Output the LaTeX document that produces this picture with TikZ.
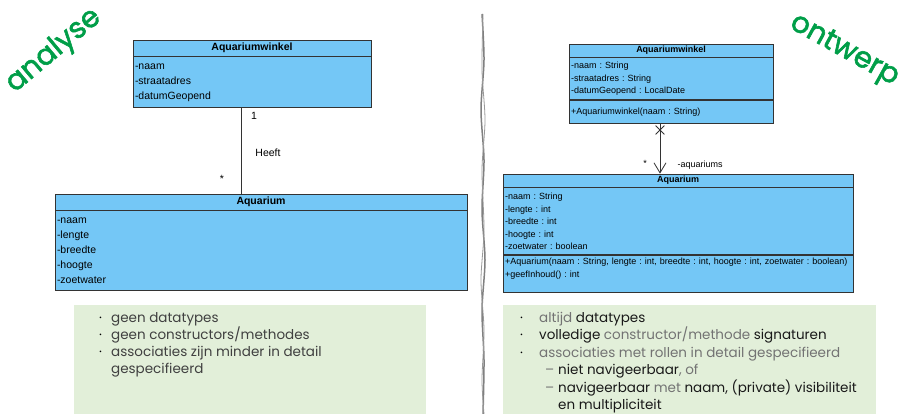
\documentclass[tikz,border=0pt]{standalone}
\usepackage{fontspec}
\setmainfont{Liberation Sans}
\newfontfamily\slidefont{Poppins}
\newfontfamily\labelfont{Poppins}[FakeBold=2]
\usetikzlibrary{positioning,arrows.meta,shapes.misc}
\definecolor{umlblue}{RGB}{116,199,246}
\definecolor{noteGreen}{RGB}{226,239,217}
\definecolor{labelGreen}{RGB}{0,158,72}
\frenchspacing

\begin{document}
\begin{tikzpicture}[x=1pt,y=-1pt]
	\tikzstyle{classhead}=[draw=black!80,fill=umlblue,line width=0.8pt,inner sep=0pt]
	\tikzstyle{classbody}=[draw=black!80,fill=umlblue,line width=0.8pt,align=left,inner xsep=2pt,inner ysep=0pt]
	\tikzstyle{notebox}=[fill=noteGreen,inner sep=0pt,anchor=north west]
	\tikzstyle{notetext}=[align=left,inner sep=0pt,anchor=north west]
	\tikzstyle{biglabel}=[text=labelGreen,font=\labelfont\fontsize{29}{30}\selectfont]
	\useasboundingbox (0,0) rectangle (916,414);
	% analyse
	\node[biglabel,rotate=40] (labelA) at (54,51) {analyse};
	\node[classhead,minimum width=238pt,minimum height=16pt,font=\bfseries\fontsize{10.5}{12}\selectfont] (winkelAhead) at (252,48) {Aquariumwinkel};
	\node[classbody,below=0pt of winkelAhead,text width=234pt,minimum height=51pt,font=\fontsize{10.5}{15}\selectfont] (winkelAattr) {-naam\\-straatadres\\-datumGeopend};
	\node[classhead,minimum width=412pt,minimum height=16pt,font=\bfseries\fontsize{10.5}{12}\selectfont] (aqAhead) at (261,202) {Aquarium};
	\node[classbody,below=0pt of aqAhead,text width=408pt,minimum height=80pt,font=\fontsize{10.5}{14.8}\selectfont] (aqAattr) {-naam\\-lengte\\-breedte\\-hoogte\\-zoetwater};
	\coordinate (heeftX) at (241,0);
	\draw[black!80,line width=0.8pt] (heeftX |- winkelAattr.south) -- (heeftX |- aqAhead.north);
	\node[font=\fontsize{10.5}{12}\selectfont] (multA1) at (254,116) {1};
	\node[font=\fontsize{10.5}{12}\selectfont] (heeft) at (268,153) {Heeft};
	\node[font=\fontsize{10.5}{12}\selectfont] (multA2) at (222,179) {*};
	\node[notebox,minimum width=352pt,minimum height=109pt] (notesA) at (74,305) {};
	\node[notetext,text=black!75,font=\slidefont\fontsize{13.5}{17}\selectfont] (listA) at (99,312) {%
		\makebox[12pt][l]{\color{black}·}geen datatypes\\
		\makebox[12pt][l]{\color{black}·}geen constructors/methodes\\
		\makebox[12pt][l]{\color{black}·}associaties zijn minder in detail\\
		\hspace*{12pt}gespecifieerd};
	% divider
	\draw[gray,line width=1.5pt] plot[smooth] coordinates {(482,14) (484,60) (481,110) (484,160) (482,210) (485,260) (482,310) (484,360) (483,414)};
	\draw[gray!80,line width=0.8pt] plot[smooth] coordinates {(483,14) (482,70) (485,120) (482,170) (484,230) (481,280) (484,330) (482,380) (484,414)};
	% ontwerp
	\node[biglabel,rotate=-29] (labelB) at (844,51) {ontwerp};
	\node[classhead,minimum width=204pt,minimum height=13pt,font=\bfseries\fontsize{9}{10}\selectfont] (winkelBhead) at (671,50.5) {Aquariumwinkel};
	\node[classbody,below=0pt of winkelBhead,text width=200pt,minimum height=42pt,font=\fontsize{9}{12.5}\selectfont] (winkelBattr) {-naam : String\\-straatadres : String\\-datumGeopend : LocalDate};
	\node[classbody,below=0pt of winkelBattr,text width=200pt,minimum height=23pt,font=\fontsize{9}{12.5}\selectfont] (winkelBmeth) {+Aquariumwinkel(naam : String)};
	\node[classhead,minimum width=350pt,minimum height=13pt,font=\bfseries\fontsize{9}{10}\selectfont] (aqBhead) at (678,180.5) {Aquarium};
	\node[classbody,below=0pt of aqBhead,text width=346pt,minimum height=67pt,font=\fontsize{9}{12.5}\selectfont] (aqBattr) {-naam : String\\-lengte : int\\-breedte : int\\-hoogte : int\\-zoetwater : boolean};
	\node[classbody,below=0pt of aqBattr,text width=346pt,minimum height=37pt,font=\fontsize{9}{12.5}\selectfont] (aqBmeth) {+Aquarium(naam : String, lengte : int, breedte : int, hoogte : int, zoetwater : boolean)\\+geefInhoud() : int\\~};
	\coordinate (navX) at (660,0);
	\draw[black!80,line width=0.8pt,-{Straight Barb[length=10pt,width=12pt]}] (navX |- winkelBmeth.south) -- (navX |- aqBhead.north);
	\node[cross out,draw=black!80,line width=0.8pt,minimum size=8pt,inner sep=0pt] (noNav) at (660,130) {};
	\node[font=\fontsize{9}{10}\selectfont] (multB) at (645,163) {*};
	\node[font=\fontsize{9}{10}\selectfont,anchor=west] (role) at (674,165) {-aquariums};
	\node[notebox,minimum width=373pt,minimum height=109pt] (notesB) at (503,305) {};
	\node[notetext,text=black!55,font=\slidefont\fontsize{13.5}{17.4}\selectfont] (listB) at (520,312) {%
		\makebox[19pt][l]{\color{black}·}altijd {\color{black!90}datatypes}\\
		\makebox[19pt][l]{\color{black}·}{\color{black!90}volledige} constructor/methode {\color{black!90}signaturen}\\
		\makebox[19pt][l]{\color{black}·}associaties met rollen in detail gespecifieerd\\
		\hspace*{25pt}\makebox[13pt][l]{–}{\color{black!90}niet navigeerbaar}, of\\
		\hspace*{25pt}\makebox[13pt][l]{–}{\color{black!90}navigeerbaar} met {\color{black!90}naam, (private) visibiliteit}\\
		\hspace*{38pt}{\color{black!90}en multipliciteit}};
\end{tikzpicture}
\end{document}
